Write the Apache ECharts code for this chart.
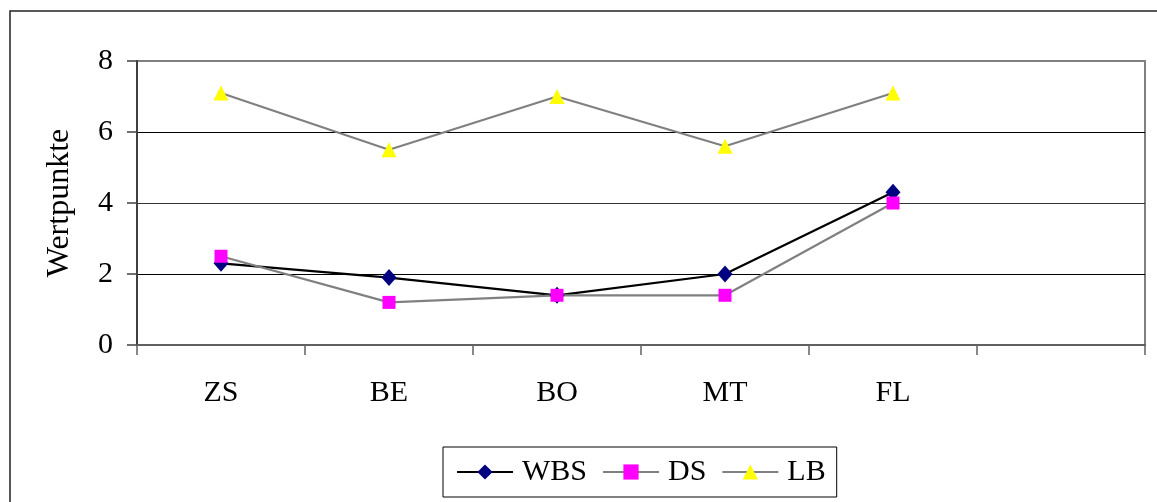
<!DOCTYPE html>
<html>
<head>
<meta charset="utf-8">
<script src="https://cdn.jsdelivr.net/npm/echarts@6/dist/echarts.min.js"></script>
<style>
html,body{margin:0;padding:0;background:#fff;}
#chart{width:1157px;height:502px;}
</style>
</head>
<body>
<div id="chart"></div>
<script>
const categories = ['ZS', 'BE', 'BO', 'MT', 'FL', ''];
const wbsValues = [2.3, 1.9, 1.4, 2.0, 4.3];
const dsValues = [2.5, 1.2, 1.4, 1.4, 4.0];
const lbValues = [7.1, 5.5, 7.0, 5.6, 7.1];
const seriesNames = ['WBS', 'DS', 'LB'];
const yAxisName = 'Wertpunkte';

const FONT = "'Liberation Serif', 'Times New Roman', serif";
const chart = echarts.init(document.getElementById('chart'), null, {renderer: 'canvas'});
chart.setOption({
  backgroundColor: '#fff',
  animation: false,
  graphic: [{
    type: 'rect',
    shape: {x: 10, y: 11, width: 1300, height: 700},
    style: {fill: 'none', stroke: '#222', lineWidth: 1.5},
    silent: true
  }],
  grid: {
    left: 137, top: 61, right: 12, bottom: 157,
    show: true, borderColor: '#808080', borderWidth: 2, backgroundColor: 'transparent'
  },
  legend: {
    data: seriesNames,
    left: 443, top: 447,
    width: 393,
    borderColor: '#000', borderWidth: 1,
    padding: [10, 11, 10, 13],
    itemWidth: 56, itemHeight: 19, itemGap: 15,
    textStyle: {fontFamily: FONT, fontSize: 30, color: '#000', padding: [0, 0, 0, 4]}
  },
  xAxis: {
    type: 'category',
    data: categories,
    boundaryGap: true,
    axisLine: {show: true, lineStyle: {color: '#606060', width: 2}},
    axisTick: {show: true, interval: 0, length: 10, lineStyle: {color: '#606060', width: 1.5}},
    axisLabel: {interval: 0, margin: 33, fontFamily: FONT, fontSize: 30, color: '#000'},
    splitLine: {show: false}
  },
  yAxis: {
    type: 'value',
    min: 0, max: 8, interval: 2,
    name: yAxisName,
    nameLocation: 'middle',
    nameRotate: 90,
    nameGap: 61,
    nameTextStyle: {fontFamily: FONT, fontSize: 32, color: '#000'},
    axisLine: {show: true, lineStyle: {color: '#404040', width: 2}},
    axisTick: {show: true, length: 10, lineStyle: {color: '#404040', width: 1.5}},
    axisLabel: {margin: 24, fontFamily: FONT, fontSize: 30, color: '#000'},
    splitLine: {show: true, lineStyle: {color: ['#000', '#000', '#333', '#000', '#808080'], width: 1}}
  },
  series: [
    {
      name: seriesNames[0], type: 'line', data: wbsValues,
      symbol: 'diamond', symbolSize: [15, 17],
      lineStyle: {color: '#000', width: 2.2},
      itemStyle: {color: '#000080'}
    },
    {
      name: seriesNames[1], type: 'line', data: dsValues,
      symbol: 'rect', symbolSize: 13,
      lineStyle: {color: '#808080', width: 2.2},
      itemStyle: {color: '#FF00FF'}
    },
    {
      name: seriesNames[2], type: 'line', data: lbValues,
      symbol: 'triangle', symbolSize: 15,
      lineStyle: {color: '#808080', width: 2.2},
      itemStyle: {color: '#FFFF00'}
    }
  ]
});
</script>
</body>
</html>
